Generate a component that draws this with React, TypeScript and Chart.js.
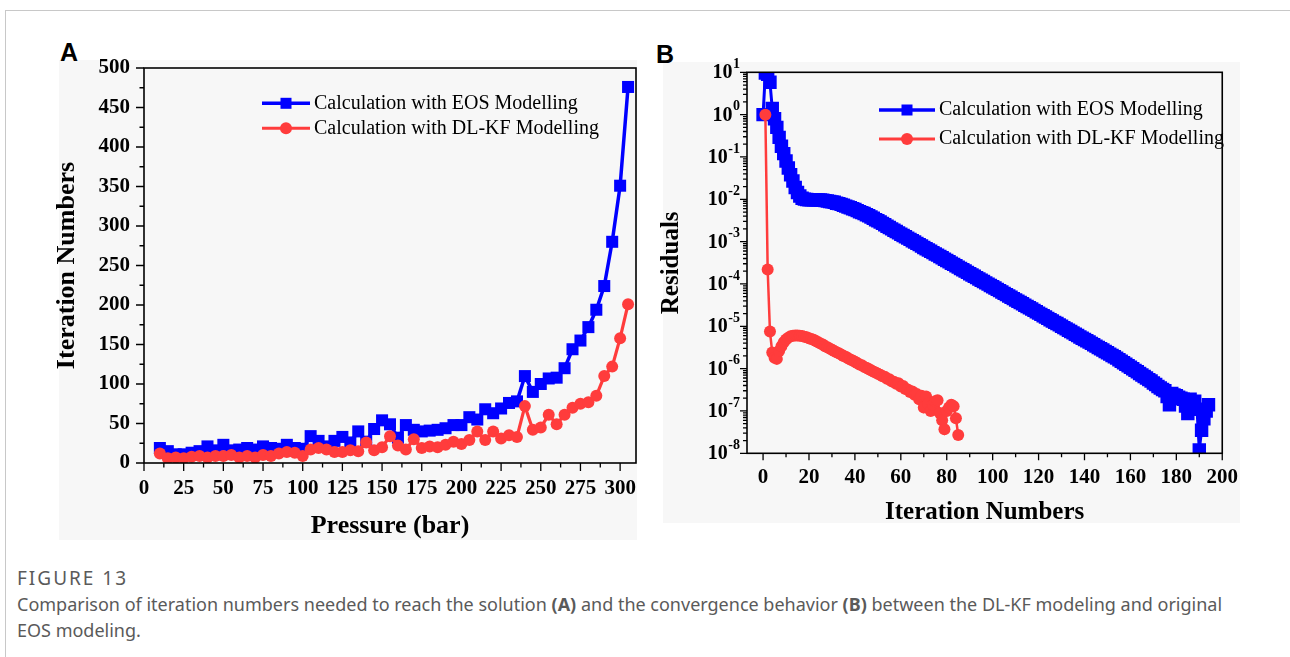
import React, { useEffect, useRef } from "react";
import { Chart, registerables } from "chart.js";

Chart.register(...registerables);

const SERIF = '"Liberation Serif", "Times New Roman", serif';
const BLUE = "#0000ff";
const RED = "#ff3c3c";

// ---------- Panel A data ----------
const pressureBar = [
  10, 15, 20, 25, 30, 35, 40, 45, 50, 55, 60, 65, 70, 75, 80, 85, 90, 95, 100, 105,
  110, 115, 120, 125, 130, 135, 140, 145, 150, 155, 160, 165, 170, 175, 180, 185, 190, 195, 200, 205,
  210, 215, 220, 225, 230, 235, 240, 245, 250, 255, 260, 265, 270, 275, 280, 285, 290, 295, 300, 305,
];
const eosIterationsA = [
  19, 15, 11, 11, 13, 15, 21, 16, 23, 16, 17, 19, 17, 21, 19, 18, 23, 19, 18, 34,
  28, 21, 28, 33, 26, 40, 27, 43, 54, 49, 32, 48, 42, 40, 41, 42, 44, 48, 48, 58,
  55, 68, 63, 69, 76, 78, 110, 90, 100, 107, 108, 120, 144, 155, 172, 194, 224, 280, 351, 476,
];
const dlkfIterationsA = [
  12, 6, 7, 6, 8, 9, 7, 9, 9, 10, 7, 9, 7, 10, 9, 12, 14, 13, 9, 17,
  19, 17, 14, 14, 16, 15, 26, 16, 20, 34, 22, 17, 30, 19, 21, 20, 23, 27, 24, 29,
  40, 29, 40, 31, 35, 33, 72, 42, 45, 61, 49, 61, 70, 75, 77, 85, 110, 122, 158, 201,
];
const pressureTicks = [0, 25, 50, 75, 100, 125, 150, 175, 200, 225, 250, 275, 300];
const pressureMinorTicks = [12.5, 37.5, 62.5, 87.5, 112.5, 137.5, 162.5, 187.5, 212.5, 237.5, 262.5, 287.5];
const iterationTicksA = [0, 50, 100, 150, 200, 250, 300, 350, 400, 450, 500];
const iterationMinorTicksA = [25, 75, 125, 175, 225, 275, 325, 375, 425, 475];

// ---------- Panel B data ----------
const eosFirstIteration = 0;
const eosResidualsB = [
  1.0, 9.6, 9.0, 5.8, 1.4, 0.8, 0.5, 0.29, 0.18, 0.12,
  0.08, 0.055, 0.038, 0.027, 0.019, 0.0145, 0.012, 0.0106, 0.0101, 0.0099,
  9.8e-3, 9.8e-3, 9.8e-3, 9.8e-3, 9.7e-3, 9.6e-3, 9.5e-3, 9.3e-3, 9.1e-3, 8.9e-3,
  8.7e-3, 8.5e-3, 8.1e-3, 7.9e-3, 7.6e-3, 7.2e-3, 6.9e-3, 6.6e-3, 6.3e-3, 6.0e-3,
  5.75e-3, 5.4e-3, 5.1e-3, 4.85e-3, 4.6e-3, 4.3e-3, 4.1e-3, 3.8e-3, 3.55e-3, 3.3e-3,
  3.1e-3, 2.9e-3, 2.7e-3, 2.5e-3, 2.3e-3, 2.15e-3, 2.0e-3, 1.86e-3, 1.73e-3, 1.61e-3,
  1.5e-3, 1.4e-3, 1.3e-3, 1.21e-3, 1.13e-3, 1.05e-3, 9.8e-4, 9.1e-4, 8.5e-4, 7.9e-4,
  7.3e-4, 6.8e-4, 6.35e-4, 5.9e-4, 5.5e-4, 5.1e-4, 4.8e-4, 4.45e-4, 4.15e-4, 3.85e-4,
  3.6e-4, 3.35e-4, 3.1e-4, 2.9e-4, 2.7e-4, 2.5e-4, 2.33e-4, 2.17e-4, 2.02e-4, 1.88e-4,
  1.75e-4, 1.63e-4, 1.52e-4, 1.41e-4, 1.31e-4, 1.22e-4, 1.14e-4, 1.06e-4, 9.9e-5, 9.2e-5,
  8.6e-5, 8.0e-5, 7.45e-5, 6.95e-5, 6.45e-5, 6.0e-5, 5.6e-5, 5.2e-5, 4.85e-5, 4.5e-5,
  4.2e-5, 3.9e-5, 3.65e-5, 3.4e-5, 3.15e-5, 2.95e-5, 2.75e-5, 2.55e-5, 2.38e-5, 2.2e-5,
  2.05e-5, 1.91e-5, 1.78e-5, 1.66e-5, 1.54e-5, 1.43e-5, 1.33e-5, 1.24e-5, 1.16e-5, 1.08e-5,
  1.0e-5, 9.3e-6, 8.7e-6, 8.1e-6, 7.5e-6, 7.0e-6, 6.5e-6, 6.05e-6, 5.6e-6, 5.2e-6,
  4.9e-6, 4.55e-6, 4.25e-6, 3.95e-6, 3.65e-6, 3.4e-6, 3.15e-6, 2.95e-6, 2.75e-6, 2.55e-6,
  2.38e-6, 2.2e-6, 2.05e-6, 1.9e-6, 1.77e-6, 1.62e-6, 1.5e-6, 1.38e-6, 1.27e-6, 1.17e-6,
  1.08e-6, 9.9e-7, 9.1e-7, 8.4e-7, 7.7e-7, 7.1e-7, 6.5e-7, 6.0e-7, 5.5e-7, 5.1e-7,
  4.6e-7, 4.2e-7, 3.8e-7, 3.5e-7, 3.2e-7, 3.0e-7, 2.2e-7, 1.4e-7, 2.6e-7, 2.4e-7,
  2.3e-7, 2.1e-7, 2.0e-7, 1.9e-7, 1.3e-7, 8.7e-8, 1.9e-7, 1.6e-7, 1.7e-7, 1.1e-7,
  1.2e-8, 3.5e-8, 6.5e-8, 1.0e-7, 1.4e-7,
];
const dlkfFirstIteration = 1;
const dlkfResidualsB = [
  1.0, 2.2e-4, 7.5e-6, 2.4e-6, 1.8e-6, 1.7e-6, 2.6e-6, 3.4e-6, 4.2e-6, 4.9e-6,
  5.4e-6, 5.8e-6, 6.0e-6, 6.1e-6, 6.1e-6, 6.0e-6, 5.9e-6, 5.7e-6, 5.5e-6, 5.2e-6,
  5.0e-6, 4.8e-6, 4.5e-6, 4.2e-6, 3.9e-6, 3.7e-6, 3.4e-6, 3.2e-6, 3.0e-6, 2.8e-6,
  2.6e-6, 2.45e-6, 2.3e-6, 2.15e-6, 2.0e-6, 1.9e-6, 1.75e-6, 1.65e-6, 1.55e-6, 1.45e-6,
  1.35e-6, 1.25e-6, 1.2e-6, 1.1e-6, 1.05e-6, 9.8e-7, 9.2e-7, 8.6e-7, 8.1e-7, 7.6e-7,
  7.2e-7, 6.6e-7, 6.4e-7, 5.8e-7, 5.6e-7, 5.0e-7, 4.9e-7, 4.4e-7, 4.5e-7, 3.8e-7,
  3.9e-7, 3.3e-7, 3.2e-7, 2.8e-7, 2.9e-7, 2.4e-7, 2.5e-7, 1.9e-7, 2.3e-7, 1.2e-7,
  2.2e-7, 1.5e-7, 1.0e-7, 1.4e-7, 1.7e-7, 1.8e-7, 9.0e-8, 6.0e-8, 3.7e-8, 1.0e-7,
  1.2e-7, 1.4e-7, 1.3e-7, 6.7e-8, 2.7e-8,
];
const iterationTicksB = [0, 20, 40, 60, 80, 100, 120, 140, 160, 180, 200];
const iterationMinorTicksB = [10, 30, 50, 70, 90, 110, 130, 150, 170, 190];
const residualTicks = [1e-8, 1e-7, 1e-6, 1e-5, 1e-4, 1e-3, 1e-2, 1e-1, 1, 10];
const residualTickBase = "10";
const residualTickExponents = ["-8", "-7", "-6", "-5", "-4", "-3", "-2", "-1", "0", "1"];
const residualMinorMultipliers = [2, 3, 4, 5, 6, 7, 8, 9];

const legendLabels = ["Calculation with EOS Modelling", "Calculation with DL-KF Modelling"];

type LegendItem = { label: string; color: string; style: "rect" | "circle"; size: number; lineWidth: number };
type PowerLabels = { values: number[]; base: string; exps: string[]; gap: number; baseFont: string; expFont: string; raise: number };
type DecorOpts = {
  xMajor: number[]; xMinor: number[]; yMajor: number[]; yMinor: number[];
  majorLen: number; minorLen: number; frameWidth: number;
  legend: { x1: number; x2: number; textX: number; rows: number[]; font: string; items: LegendItem[] };
  powerLabels?: PowerLabels;
};

function makeDecor(opts: DecorOpts) {
  return {
    id: "decor",
    afterDraw(chart: any) {
      const { ctx, chartArea } = chart;
      const { left, right, top, bottom } = chartArea;
      const xs = chart.scales.x;
      const ys = chart.scales.y;
      ctx.save();
      ctx.strokeStyle = "#000";
      ctx.lineWidth = opts.frameWidth;
      ctx.strokeRect(left, top, right - left, bottom - top);
      ctx.lineWidth = 1.3;
      ctx.beginPath();
      for (const v of opts.xMajor) {
        const p = xs.getPixelForValue(v);
        ctx.moveTo(p, bottom); ctx.lineTo(p, bottom + opts.majorLen);
      }
      for (const v of opts.xMinor) {
        const p = xs.getPixelForValue(v);
        ctx.moveTo(p, bottom); ctx.lineTo(p, bottom + opts.minorLen);
      }
      for (const v of opts.yMajor) {
        const p = ys.getPixelForValue(v);
        ctx.moveTo(left, p); ctx.lineTo(left - opts.majorLen, p);
      }
      for (const v of opts.yMinor) {
        const p = ys.getPixelForValue(v);
        ctx.moveTo(left, p); ctx.lineTo(left - opts.minorLen, p);
      }
      ctx.stroke();

      const P = opts.powerLabels;
      if (P) {
        ctx.fillStyle = "#000";
        ctx.textBaseline = "middle";
        P.values.forEach((v, i) => {
          const p = ys.getPixelForValue(v);
          const rightEdge = left - P.gap;
          ctx.font = P.expFont;
          const ew = ctx.measureText(P.exps[i]).width;
          ctx.textAlign = "left";
          ctx.fillText(P.exps[i], rightEdge - ew, p - P.raise);
          ctx.font = P.baseFont;
          ctx.textAlign = "right";
          ctx.fillText(P.base, rightEdge - ew - 0.5, p + 1);
        });
      }

      const L = opts.legend;
      L.items.forEach((it, i) => {
        const y = L.rows[i];
        ctx.strokeStyle = it.color;
        ctx.lineWidth = it.lineWidth;
        ctx.beginPath(); ctx.moveTo(L.x1, y); ctx.lineTo(L.x2, y); ctx.stroke();
        ctx.fillStyle = it.color;
        const cx = (L.x1 + L.x2) / 2;
        if (it.style === "rect") ctx.fillRect(cx - it.size / 2, y - it.size / 2, it.size, it.size);
        else { ctx.beginPath(); ctx.arc(cx, y, it.size / 2, 0, Math.PI * 2); ctx.fill(); }
        ctx.fillStyle = "#000";
        ctx.font = L.font;
        ctx.textBaseline = "middle";
        ctx.textAlign = "left";
        ctx.fillText(it.label, L.textX, y);
      });
      ctx.restore();
    },
  };
}

function chartA(canvas: HTMLCanvasElement) {
  const toXY = (ys: number[]) => pressureBar.map((p, i) => ({ x: p, y: ys[i] }));
  return new Chart(canvas, {
    type: "line",
    data: {
      datasets: [
        {
          label: legendLabels[1], data: toXY(dlkfIterationsA), borderColor: RED, backgroundColor: RED,
          borderWidth: 3.2, pointStyle: "circle", pointRadius: 6, pointBorderWidth: 0, order: 0, tension: 0,
        },
        {
          label: legendLabels[0], data: toXY(eosIterationsA), borderColor: BLUE, backgroundColor: BLUE,
          borderWidth: 3.5, pointStyle: "rect", pointRadius: 8.5, pointBorderWidth: 0, order: 1, tension: 0,
        },
      ],
    },
    options: {
      animation: false, responsive: false, maintainAspectRatio: false, devicePixelRatio: 1,
      layout: { padding: { left: 0, right: 14, top: 28, bottom: 0 } },
      plugins: { legend: { display: false }, tooltip: { enabled: false } },
      scales: {
        x: {
          type: "linear", min: 0, max: 310,
          grid: { display: false, drawTicks: false }, border: { display: false },
          afterBuildTicks: (s: any) => { s.ticks = pressureTicks.map((v) => ({ value: v })); },
          afterFit: (s: any) => { s.height = 87; },
          ticks: { autoSkip: false, maxRotation: 0, minRotation: 0, padding: 13, color: "#000",
            font: { family: SERIF, size: 21, weight: "bold" } },
          title: { display: true, text: "Pressure (bar)", color: "#000", padding: { top: 0, bottom: 8 },
            font: { family: SERIF, size: 26, weight: "bold" } },
        },
        y: {
          type: "linear", min: 0, max: 500,
          grid: { display: false, drawTicks: false }, border: { display: false },
          afterBuildTicks: (s: any) => { s.ticks = iterationTicksA.map((v) => ({ value: v })); },
          afterFit: (s: any) => { s.width = 104; },
          ticks: { autoSkip: false, padding: 14, color: "#000", font: { family: SERIF, size: 21, weight: "bold" } },
          title: { display: true, text: "Iteration Numbers", color: "#000", padding: { top: 12, bottom: 0 },
            font: { family: SERIF, size: 26, weight: "bold" } },
        },
      },
    },
    plugins: [
      makeDecor({
        xMajor: pressureTicks, xMinor: pressureMinorTicks, yMajor: iterationTicksA, yMinor: iterationMinorTicksA,
        majorLen: 8, minorLen: 4.5, frameWidth: 1.6,
        legend: {
          x1: 222, x2: 270, textX: 274, rows: [63.3, 88.3], font: `20px ${SERIF}`,
          items: [
            { label: legendLabels[0], color: BLUE, style: "rect", size: 11, lineWidth: 3.5 },
            { label: legendLabels[1], color: RED, style: "circle", size: 12, lineWidth: 3 },
          ],
        },
      }),
    ],
  } as any);
}

function chartB(canvas: HTMLCanvasElement) {
  const eosXY = eosResidualsB.map((v, i) => ({ x: eosFirstIteration + i, y: v }));
  const dlkfXY = dlkfResidualsB.map((v, i) => ({ x: dlkfFirstIteration + i, y: v }));
  const yMinor: number[] = [];
  residualTicks.slice(0, -1).forEach((d) => residualMinorMultipliers.forEach((m) => yMinor.push(d * m)));
  return new Chart(canvas, {
    type: "line",
    data: {
      datasets: [
        {
          label: legendLabels[1], data: dlkfXY, borderColor: RED, backgroundColor: RED,
          borderWidth: 2.5, pointStyle: "circle", pointRadius: 6, pointBorderWidth: 0, order: 0, tension: 0, clip: 0,
        },
        {
          label: legendLabels[0], data: eosXY, borderColor: BLUE, backgroundColor: BLUE,
          borderWidth: 3, pointStyle: "rect", pointRadius: 9.5, pointBorderWidth: 0, order: 1, tension: 0, clip: 0,
        },
      ],
    },
    options: {
      animation: false, responsive: false, maintainAspectRatio: false, devicePixelRatio: 1,
      layout: { padding: { left: 0, right: 27, top: 27.3, bottom: 0 } },
      plugins: { legend: { display: false }, tooltip: { enabled: false } },
      scales: {
        x: {
          type: "linear", min: -7, max: 200,
          grid: { display: false, drawTicks: false }, border: { display: false },
          afterBuildTicks: (s: any) => { s.ticks = iterationTicksB.map((v) => ({ value: v })); },
          afterFit: (s: any) => { s.height = 81.7; },
          ticks: { autoSkip: false, maxRotation: 0, minRotation: 0, padding: 12, color: "#000",
            font: { family: SERIF, size: 21, weight: "bold" } },
          title: { display: true, text: "Iteration Numbers", color: "#000", padding: { top: 0, bottom: 7 },
            font: { family: SERIF, size: 25, weight: "bold" } },
        },
        y: {
          type: "logarithmic", min: 1e-8, max: 10,
          grid: { display: false, drawTicks: false }, border: { display: false },
          afterBuildTicks: (s: any) => { s.ticks = residualTicks.map((v) => ({ value: v })); },
          afterFit: (s: any) => { s.width = 97; },
          ticks: { display: false },
          title: { display: true, text: "Residuals", color: "#000", padding: { top: 7, bottom: 0 },
            font: { family: SERIF, size: 25, weight: "bold" } },
        },
      },
    },
    plugins: [
      makeDecor({
        xMajor: iterationTicksB, xMinor: iterationMinorTicksB, yMajor: residualTicks, yMinor,
        majorLen: 7, minorLen: 4, frameWidth: 1.6,
        powerLabels: {
          values: residualTicks, base: residualTickBase, exps: residualTickExponents, gap: 7,
          baseFont: `bold 20px ${SERIF}`, expFont: `bold 14px ${SERIF}`, raise: 8,
        },
        legend: {
          x1: 229, x2: 285, textX: 289, rows: [65, 94], font: `20px ${SERIF}`,
          items: [
            { label: legendLabels[0], color: BLUE, style: "rect", size: 11, lineWidth: 3.5 },
            { label: legendLabels[1], color: RED, style: "circle", size: 12, lineWidth: 3 },
          ],
        },
      }),
    ],
  } as any);
}

export default function App() {
  const refA = useRef<HTMLCanvasElement>(null);
  const refB = useRef<HTMLCanvasElement>(null);
  useEffect(() => {
    const a = chartA(refA.current!);
    const b = chartB(refB.current!);
    return () => { a.destroy(); b.destroy(); };
  }, []);

  const panelLetter: React.CSSProperties = {
    position: "absolute", fontFamily: '"Liberation Sans", Arial, sans-serif', fontWeight: "bold",
    fontSize: 25, lineHeight: "25px", color: "#000",
  };

  return (
    <div style={{ position: "absolute", left: 0, top: 0, width: 1290, height: 657, overflow: "hidden", background: "#fff" }}>
      <div style={{ position: "absolute", left: 5, top: 10, width: 1400, height: 800, borderTop: "1px solid #c8c8c8", borderLeft: "1px solid #c8c8c8" }} />
      <div style={{ position: "absolute", left: 59, top: 60, width: 578, height: 480, background: "#f7f7f7" }} />
      <div style={{ position: "absolute", left: 663, top: 62, width: 577, height: 461, background: "#f7f7f7" }} />
      <div style={{ ...panelLetter, left: 60, top: 40 }}>A</div>
      <div style={{ ...panelLetter, left: 656, top: 42 }}>B</div>
      <canvas ref={refA} width={610} height={510} style={{ position: "absolute", left: 40, top: 40, width: 610, height: 510 }} />
      <canvas ref={refB} width={600} height={490} style={{ position: "absolute", left: 650, top: 45, width: 600, height: 490 }} />
      <div style={{ position: "absolute", left: 17, top: 565, fontFamily: '"Noto Sans", sans-serif', color: "#5a5a5a", fontSize: 18, lineHeight: "26px", whiteSpace: "nowrap" }}>
        <div style={{ fontSize: 19, letterSpacing: 2 }}>FIGURE 13</div>
        <div>
          Comparison of iteration numbers needed to reach the solution <b>(A)</b> and the convergence behavior <b>(B)</b> between the DL-KF modeling and original
        </div>
        <div>EOS modeling.</div>
      </div>
    </div>
  );
}
